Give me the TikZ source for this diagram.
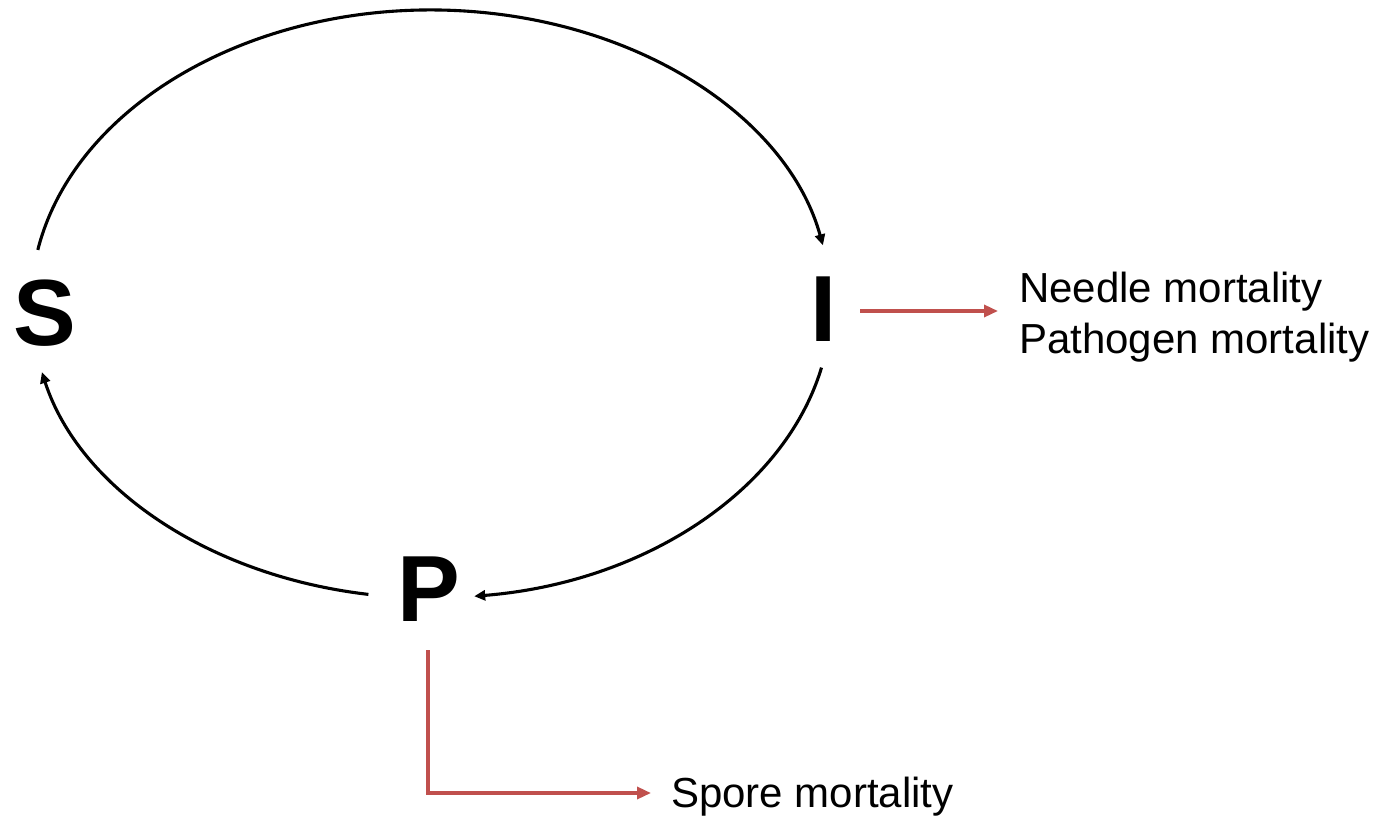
\documentclass[tikz,border=0pt]{standalone}
\usepackage{fontspec}
\setmainfont{Liberation Sans}
\usetikzlibrary{arrows.meta}
\definecolor{flowred}{HTML}{C0504D}
\tikzset{
  state/.style={inner sep=0pt, anchor=base, font=\fontsize{94}{100}\selectfont\bfseries},
  outlabel/.style={inner sep=0pt, anchor=base west, font=\fontsize{42}{50}\selectfont},
  cycle/.style={line width=3.1pt, -{Triangle[length=11pt,width=10pt]}},
  loss/.style={line width=3.3pt, draw=flowred, -{Triangle[length=14pt,width=12pt]}}
}
\begin{document}
\begin{tikzpicture}[x=1pt,y=1pt]
  \useasboundingbox (0,0) rectangle (1391,815);

  % compartments
  \node[state] (S) at (44.5,469.5) {S};
  \node[state] (I) at (824,473) {I};
  \node[state] (P) at (429,194) {P};

  % loss terms
  \node[outlabel] (needle) at (1019,512) {Needle mortality};
  \node[outlabel] (pathogen) at (1019,461) {Pathogen mortality};
  \node[outlabel] (spore) at (671,8) {Spore mortality};

  % start points of the cycle arcs (ellipse centre (431,511), radii 400 x 294)
  \coordinate (sOut) at (37.8,565.1);
  \coordinate (iOut) at (821.5,447.4);
  \coordinate (pOut) at (368.4,220.6);

  % S -> I -> P -> S
  \draw[cycle] (sOut) arc[start angle=169.4, end angle=11.5, x radius=400, y radius=294];
  \draw[cycle] (iOut) arc[start angle=-12.5, end angle=-83.8, x radius=400, y radius=294];
  \draw[cycle] (pOut) arc[start angle=-99, end angle=-166.6, x radius=400, y radius=294];

  % mortality outflows
  \coordinate (iLossStart) at (860,504);
  \coordinate (iLossEnd) at (998,504);
  \draw[loss] (iLossStart) -- (iLossEnd);

  \coordinate (pLossStart) at (428,165);
  \coordinate (pLossCorner) at (428,22);
  \coordinate (pLossEnd) at (651,22);
  \draw[loss] (pLossStart) -- (pLossCorner) -- (pLossEnd);
\end{tikzpicture}
\end{document}
